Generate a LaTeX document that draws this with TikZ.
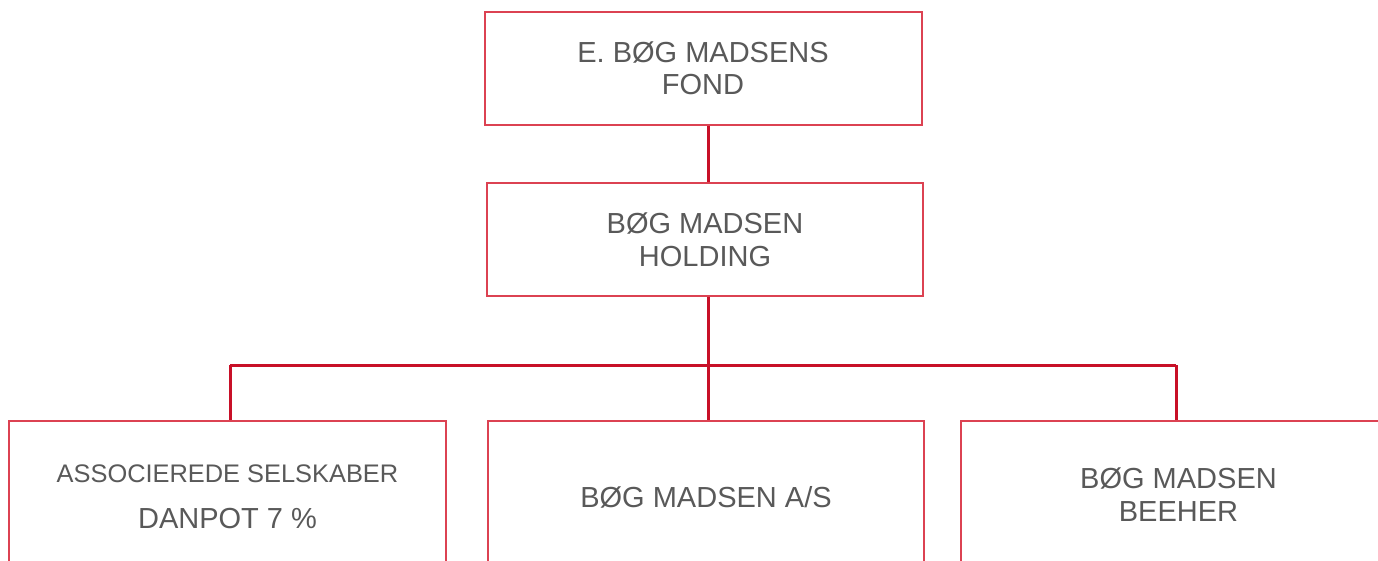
\documentclass[tikz,border=0pt]{standalone}
\usepackage{fontspec}
\setmainfont{Liberation Sans}
\definecolor{conn}{RGB}{200,16,40}
\definecolor{boxred}{RGB}{220,66,82}
\definecolor{txt}{RGB}{89,89,89}
\begin{document}
\begin{tikzpicture}[x=1pt,y=-1pt,
  orgbox/.style={draw=boxred,line width=1.5pt,fill=white,inner sep=0pt},
  conline/.style={draw=conn,line width=3pt},
  lbl/.style={text=txt,anchor=base,inner sep=0pt,font=\fontsize{29}{32}\selectfont},
  lblsmall/.style={lbl,font=\fontsize{25.4}{30}\selectfont}]
\useasboundingbox (0,0) rectangle (1378,561);
\clip (0,0) rectangle (1378,561);
% boxes
\node[orgbox,minimum width=437pt,minimum height=113pt] (top) at (703.5,68.5) {};
\node[orgbox,minimum width=436pt,minimum height=113pt] (mid) at (705,239.5) {};
\node[orgbox,minimum width=437pt,minimum height=240pt] (bl) at (227.5,541) {};
\node[orgbox,minimum width=436pt,minimum height=240pt] (bm) at (706,541) {};
\node[orgbox,minimum width=436pt,minimum height=240pt] (br) at (1179,541) {};
% connectors
\coordinate (bus) at (708,365);
\coordinate (busL) at (230,365);
\coordinate (busR) at (1176,365);
\draw[conline] (top.south -| bus) -- (mid.north -| bus);
\draw[conline] (mid.south -| bus) -- (bus) -- (bm.north -| bus);
\draw[conline] (busL) -- (busR);
\draw[conline] (busL) -- (bl.north -| busL);
\draw[conline] (busR) -- (br.north -| busR);
% texts
\node[lbl] (t1) at (703,63) {E. BØG MADSENS};
\node[lbl] (t2) at (703,95) {FOND};
\node[lbl] (m1) at (705,234) {BØG MADSEN};
\node[lbl] (m2) at (705,266) {HOLDING};
\node[lblsmall] (l1) at (227.5,482) {ASSOCIEREDE SELSKABER};
\node[lbl] (l2) at (227.5,528) {DANPOT 7 \%};
\node[lbl] (c1) at (706,507) {BØG MADSEN A/S};
\node[lbl] (r1) at (1178.5,488) {BØG MADSEN};
\node[lbl] (r2) at (1178.5,521) {BEEHER};
\end{tikzpicture}
\end{document}
